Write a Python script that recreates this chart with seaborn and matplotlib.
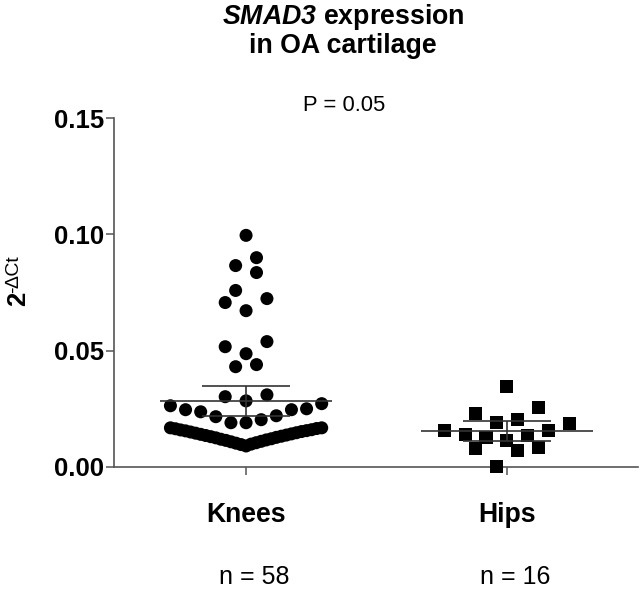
import numpy as np
import pandas as pd
import matplotlib
matplotlib.use("Agg")
import matplotlib.pyplot as plt
from matplotlib import transforms
import seaborn as sns

GROUPS = ["Knees", "Hips"]

KNEES = [
    # upper scatter
    0.0996, 0.0900, 0.0836, 0.0866, 0.0759, 0.0707, 0.0672, 0.0724,
    0.0517, 0.0539, 0.0487, 0.0440, 0.0431, 0.0310, 0.0284, 0.0302,
    # middle row
    0.0263, 0.0246, 0.0237, 0.0216, 0.0190, 0.0190, 0.0203, 0.0220,
    0.0246, 0.0250, 0.0272,
    # dense low band
    0.0168, 0.0165, 0.0160, 0.0156, 0.0152, 0.0147, 0.0142, 0.0137,
    0.0132, 0.0127, 0.0121, 0.0116, 0.0110, 0.0104, 0.0098, 0.0090,
    0.0096, 0.0102, 0.0108, 0.0114, 0.0119, 0.0125, 0.0130, 0.0135,
    0.0140, 0.0145, 0.0150, 0.0155, 0.0159, 0.0164, 0.0168,
]
HIPS = [
    0.0345, 0.0254, 0.0228, 0.0190, 0.0203, 0.0155, 0.0155, 0.0185,
    0.0138, 0.0078, 0.0125, 0.0112, 0.0069, 0.0134, 0.0082, 0.0000,
]
MARKERS = {"Knees": "o", "Hips": "s"}
# two-sided 95% t quantiles for df = n - 1
T95 = {57: 2.0025, 15: 2.1314}

Y_TICKS = [0.00, 0.05, 0.10, 0.15]
P_TEXT = "P = 0.05"

plt.rcParams.update({
    "font.family": ["Liberation Sans", "DejaVu Sans"],
    "mathtext.fontset": "custom",
    "mathtext.rm": "Liberation Sans",
    "mathtext.sf": "Liberation Sans:italic:bold",
    "mathtext.bf": "Liberation Sans:bold",
})


def row_offsets(values, bin_h=0.0095, step=0.08, max_half=0.29):
    """Prism-like scatter layout: bin values into rows, spread each row
    from the centre outwards (lowest value in the middle)."""
    v = np.asarray(values, dtype=float)
    bins = np.floor((v - v.min()) / bin_h).astype(int)
    out = np.zeros(len(v))
    for b in np.unique(bins):
        idx = np.where(bins == b)[0]
        idx = idx[np.argsort(v[idx], kind="stable")]
        k = len(idx)
        dx = step if k < 2 else min(step, 2 * max_half / (k - 1))
        slots = sorted(np.arange(k) - (k - 1) / 2, key=lambda s: (abs(s), s))
        out[idx] = np.array(slots) * dx
    return out


df = pd.concat([
    pd.DataFrame({"site": "Knees", "value": KNEES, "xpos": 0 + row_offsets(KNEES)}),
    pd.DataFrame({"site": "Hips", "value": HIPS, "xpos": 1 + row_offsets(HIPS)}),
], ignore_index=True)

fig = plt.figure(figsize=(6.41, 5.91), dpi=100)
ax = fig.add_axes([0.178, 0.210, 0.817, 0.590])

sns.scatterplot(
    data=df, x="xpos", y="value", style="site", markers=MARKERS,
    color="black", s=88, linewidth=0, legend=False, ax=ax, zorder=3,
)
for coll in ax.collections:
    coll.set_clip_on(False)

# mean with 95% CI
line_kw = dict(color="#333333", lw=1.2, zorder=5)
for i, site in enumerate(GROUPS):
    vals = df.loc[df.site == site, "value"].to_numpy()
    m = vals.mean()
    ci = T95[len(vals) - 1] * vals.std(ddof=1) / np.sqrt(len(vals))
    ax.hlines(m, i - 0.33, i + 0.33, **line_kw)
    ax.hlines([m - ci, m + ci], i - 0.168, i + 0.168, **line_kw)
    ax.vlines(i, m - ci, m + ci, **line_kw)

ax.set_xlim(-0.506, 1.502)
ax.set_ylim(0, 0.15)
ax.set_yticks(Y_TICKS)
ax.set_yticklabels([f"{t:.2f}" for t in Y_TICKS], fontsize=18.5, fontweight="bold")
ax.set_xticks(range(len(GROUPS)))
ax.set_xticklabels(GROUPS, fontsize=19.2, fontweight="bold")
ax.set_xlabel("")
ax.set_ylabel("")

sns.despine(ax=ax)
for side in ["left", "bottom"]:
    ax.spines[side].set_color("#555555")
    ax.spines[side].set_linewidth(1.2)
ax.tick_params(axis="y", length=5.5, width=1.1, color="#555555", pad=1.5)
ax.tick_params(axis="x", length=5.5, width=1.1, color="#555555", pad=20)

# y label: bold "2" with superscript
fig.text(18 / 641, 1 - 299 / 591, "2", rotation=90, ha="center", va="center",
         fontsize=18.5, fontweight="bold")
fig.text(14 / 641, 1 - 274 / 591, "-\u2206Ct", rotation=90, ha="center", va="center",
         fontsize=14)

trans = transforms.blended_transform_factory(ax.transData, ax.transAxes)
ax.text(0.375, 1.037, P_TEXT, transform=trans, ha="center", va="center", fontsize=15.8)
for i, site in enumerate(GROUPS):
    n = int((df.site == site).sum())
    ax.text(i + 0.03, (467 - 584) / 349, f"n = {n}", transform=trans, ha="center",
            va="baseline", fontsize=18)

fig.text(0.535, 0.997, "$\\mathsf{SMAD3}$ expression\nin OA cartilage",
         ha="center", va="top", fontsize=19.3, fontweight="bold", linespacing=1.05)

fig.savefig("out.png", dpi=100)
